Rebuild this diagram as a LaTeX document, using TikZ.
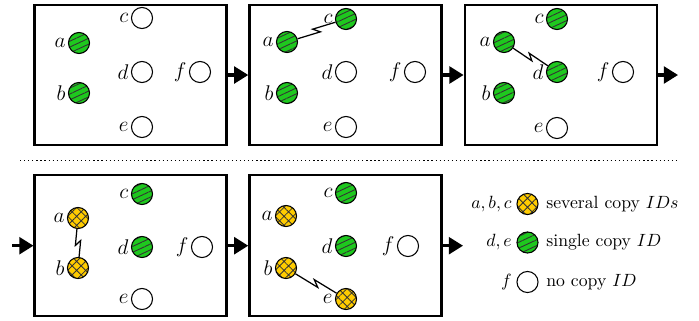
\documentclass[tikz,border=0pt]{standalone}
\usetikzlibrary{arrows.meta,calc,patterns.meta}
\definecolor{idgreen}{RGB}{30,200,30}
\definecolor{idyellow}{RGB}{255,204,0}
\tikzset{
  panel/.style={draw, line width=1.4pt, minimum width=108.4pt, minimum height=79.2pt, inner sep=0pt},
  idbase/.style={circle, draw, line width=0.6pt, minimum size=11.9pt, inner sep=0pt},
  idw/.style={idbase, fill=white},
  idg/.style={idbase, preaction={fill=idgreen}, pattern={Lines[angle=25,distance=3pt,line width=0.5pt]}, pattern color=black!80},
  idy/.style={idbase, preaction={fill=idyellow}, pattern={Hatch[angle=45,distance=3.6pt,line width=0.45pt]}, pattern color=black!80},
  lab/.style={label={[inner sep=1.2pt, font=\large]left:$#1$}},
  flow/.style={line width=1.7pt, -{Triangle[length=8pt,width=9.5pt]}},
  link/.style={line width=0.7pt},
  sep/.style={line width=0.7pt, dash pattern=on 0.7pt off 1.6pt}
}
\newcommand{\zigzag}[2]{%
  \draw[link] (#1) -- ($(#1.center)!0.55!(#2.center)!1.5pt!-90:(#2.center)$)
    -- ($(#1.center)!0.45!(#2.center)!1.5pt!90:(#2.center)$) -- (#2);}
\begin{document}
\begin{tikzpicture}[x=0.5646pt,y=-0.5646pt]
\useasboundingbox (0,0) rectangle (699,320);

% ---------- row 1 ----------
\node[panel] (P1) at (130.7,75) {};
\node[idg, lab=a] (a1) at (79,43) {};
\node[idg, lab=b] (b1) at (79,93) {};
\node[idw, lab=c] (c1) at (142,18) {};
\node[idw, lab=d] (d1) at (142,72) {};
\node[idw, lab=e] (e1) at (142,127) {};
\node[idw, lab=f] (f1) at (200,72) {};

\node[panel] (P2) at (345.5,75) {};
\node[idg, lab=a] (a2) at (287,42) {};
\node[idg, lab=b] (b2) at (287,93) {};
\node[idg, lab=c] (c2) at (346,19) {};
\node[idw, lab=d] (d2) at (346,72) {};
\node[idw, lab=e] (e2) at (346,127) {};
\node[idw, lab=f] (f2) at (415,72) {};
\zigzag{a2}{c2}

\node[panel] (P3) at (560.8,75) {};
\node[idg, lab=a] (a3) at (504,42) {};
\node[idg, lab=b] (b3) at (504,93) {};
\node[idg, lab=c] (c3) at (557,19) {};
\node[idg, lab=d] (d3) at (557,72) {};
\node[idw, lab=e] (e3) at (557,128) {};
\node[idw, lab=f] (f3) at (623,72) {};
\zigzag{a3}{d3}

\coordinate (out1) at (678,75);
\draw[flow] (P1.east) -- (P2.west);
\draw[flow] (P2.east) -- (P3.west);
\draw[flow] (P3.east) -- (out1);

% ---------- separator ----------
\coordinate (sl) at (20,160.5);
\coordinate (sr) at (676,160.5);
\draw[sep] (sl) -- (sr);

% ---------- row 2 ----------
\node[panel, minimum height=79.6pt] (Q1) at (130.7,245.7) {};
\node[idy, lab=a] (a4) at (78,218) {};
\node[idy, lab=b] (b4) at (78,268) {};
\node[idg, lab=c] (c4) at (142,194) {};
\node[idg, lab=d] (d4) at (142,247) {};
\node[idw, lab=e] (e4) at (142,299) {};
\node[idw, lab=f] (f4) at (202,247) {};
\zigzag{a4}{b4}

\node[panel, minimum height=79.6pt] (Q2) at (345.5,245.7) {};
\node[idy, lab=a] (a5) at (286,216) {};
\node[idy, lab=b] (b5) at (286,268) {};
\node[idg, lab=c] (c5) at (346,193) {};
\node[idg, lab=d] (d5) at (346,246) {};
\node[idy, lab=e] (e5) at (346,299) {};
\node[idw, lab=f] (f5) at (408,246) {};
\zigzag{b5}{e5}

\coordinate (in2) at (12,245.7);
\coordinate (out2) at (463,245.7);
\draw[flow] (in2) -- (Q1.west);
\draw[flow] (Q1.east) -- (Q2.west);
\draw[flow] (Q2.east) -- (out2);

% ---------- legend ----------
\node[idy, label={[inner sep=2.5pt]left:$a,b,c$}] (ly) at (527.5,204) {};
\node[idg, label={[inner sep=2.5pt]left:$d,e$}] (lg) at (527.5,242.5) {};
\node[idw, label={[inner sep=2.5pt]left:$f$}] (lw) at (527.5,282) {};
\node[anchor=west, inner sep=0pt] (ty) at (546,204) {several copy $IDs$};
\node[anchor=west, inner sep=0pt] (tg) at (546,242.5) {single copy $ID$};
\node[anchor=west, inner sep=0pt] (tw) at (546,282) {no copy $ID$};
\end{tikzpicture}
\end{document}
